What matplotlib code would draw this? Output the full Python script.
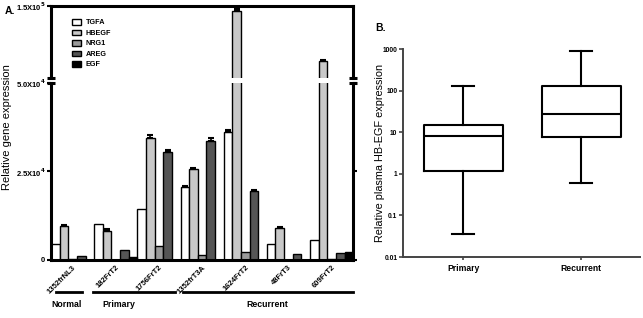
import numpy as np
import matplotlib
matplotlib.use("Agg")
import matplotlib.pyplot as plt
from matplotlib import font_manager
from matplotlib.transforms import blended_transform_factory

_names = {f.name for f in font_manager.fontManager.ttflist}
NARROW = "Liberation Sans Narrow" if "Liberation Sans Narrow" in _names else "Liberation Sans"
plt.rcParams["font.family"] = ["Liberation Sans", "DejaVu Sans"]
plt.rcParams["font.weight"] = "bold"

# ---- panel A data ----
samples = ["1352frNL3", "182FrT2", "1756FrT2", "1352frT3A", "1624FrT2", "48FrT3", "609FrT2"]
genes = ["TGFA", "HBEGF", "NRG1", "AREG", "EGF"]
gene_colors = ["#ffffff", "#c8c8c8", "#9a9a9a", "#555555", "#000000"]
tgfa = [4400, 10100, 14300, 20500, 36100, 4400, 5650]
hbegf = [9600, 8200, 34400, 25700, 143000, 8950, 74000]
nrg1 = [300, 0, 3950, 1300, 2350, 0, 300]
areg = [1200, 2800, 30600, 33600, 19600, 1600, 1900]
egf = [0, 930, 0, 0, 0, 0, 2350]
tgfa_err = [0, 0, 0, 300, 700, 0, 0]
hbegf_err = [200, 600, 900, 400, 2500, 500, 600]
nrg1_err = [0, 0, 0, 0, 0, 0, 0]
areg_err = [0, 0, 500, 1000, 200, 0, 0]
egf_err = [0, 0, 0, 0, 0, 0, 0]
groups = ["Normal", "Primary", "Recurrent"]

# ---- panel B data ----
box_groups = ["Primary", "Recurrent"]
box_whislo = [0.035, 0.60]
box_q1 = [1.19, 7.5]
box_med = [8.1, 26.9]
box_q3 = [15.1, 131]
box_whishi = [127, 880]

fig = plt.figure(figsize=(6.43, 3.18), dpi=100)

# broken y axis: two stacked axes
ax_top = fig.add_axes([0.0793, 0.7547, 0.470, 0.2264])
ax_bot = fig.add_axes([0.0793, 0.1824, 0.470, 0.5566])

series = [tgfa, hbegf, nrg1, areg, egf]
errs = [tgfa_err, hbegf_err, nrg1_err, areg_err, egf_err]
n_genes = len(genes)
spine_lw = 2.2

for ax in (ax_top, ax_bot):
    for i, (vals, err, col) in enumerate(zip(series, errs, gene_colors)):
        x = np.arange(len(samples)) * n_genes + i + 0.5
        ax.bar(x, vals, width=1.0, color=col, edgecolor="black", linewidth=1.0,
               label=genes[i], zorder=2)
        err = np.array(err)
        m = err > 0
        if m.any():
            # upper error only
            ax.errorbar(x[m], np.array(vals)[m], yerr=[np.zeros(m.sum()), err[m]],
                        fmt="none", ecolor="black", elinewidth=1.2, capsize=2.2,
                        capthick=1.5, zorder=3)
    ax.set_xlim(0, len(samples) * n_genes)
    for s in ("left", "right"):
        ax.spines[s].set_linewidth(spine_lw)

ax_bot.set_ylim(0, 5e4)
ax_top.set_ylim(5e4, 1.5e5)
ax_bot.spines["top"].set_visible(False)
ax_top.spines["bottom"].set_visible(False)
ax_bot.spines["bottom"].set_linewidth(spine_lw)
ax_top.spines["top"].set_linewidth(spine_lw)

ax_bot.set_yticks([0, 2.5e4, 5e4])
ax_bot.set_yticklabels(["0", r"2.5X10$^4$", r"5.0X10$^4$"], fontsize=5.5)
ax_bot.tick_params(axis="y", direction="out", length=3, width=1.5, pad=1,
                   right=True)
ax_top.set_yticks([1.5e5])
ax_top.set_yticklabels([r"1.5X10$^5$"], fontsize=5.5)
ax_top.tick_params(axis="y", direction="out", length=3, width=1.5, pad=1)
ax_top.set_xticks([])

# break caps
for xx in (0, len(samples) * n_genes):
    ax_bot.plot([xx], [5e4], marker="_", ms=6, mew=2.2, color="black", clip_on=False, zorder=5)
    ax_top.plot([xx], [5e4], marker="_", ms=6, mew=2.2, color="black", clip_on=False, zorder=5)

centers = np.arange(len(samples)) * n_genes + n_genes / 2
ax_bot.set_xticks(centers)
ax_bot.set_xticklabels(samples, rotation=45, ha="right", rotation_mode="anchor",
                       fontsize=5.5, family=NARROW)
ax_bot.tick_params(axis="x", length=0, pad=3)

# group bars under the sample names
trans = blended_transform_factory(ax_bot.transData, ax_bot.transAxes)
line_spans = [(0.58, 3.6), (4.87, 14.4), (15.3, 35.0)]
text_x = [1.85, 7.8, 25.1]
for name, (x0, x1), tx in zip(groups, line_spans, text_x):
    ax_bot.plot([x0, x1], [-0.18, -0.18], color="black", lw=2.0, transform=trans,
                clip_on=False)
    ax_bot.text(tx, -0.225, name, transform=trans, ha="center", va="top", fontsize=6.3)

ax_bot.set_ylabel("Relative gene expression", fontsize=8, labelpad=2)
ax_bot.yaxis.set_label_coords(-0.128, 0.75)

ax_top.legend(loc="upper left", bbox_to_anchor=(0.06, 0.86), frameon=False,
              fontsize=5.2, handlelength=1.3, handleheight=0.8, labelspacing=0.45,
              handletextpad=0.6, borderaxespad=0)

fig.text(0.008, 0.965, "A.", fontsize=7.5, va="center")

# ---- panel B ----
axb = fig.add_axes([0.6267, 0.1918, 0.3686, 0.6541])
stats = []
for i, name in enumerate(box_groups):
    stats.append(dict(label=name, whislo=box_whislo[i], q1=box_q1[i], med=box_med[i],
                      q3=box_q3[i], whishi=box_whishi[i], fliers=[]))
lw = 1.5
axb.bxp(stats, positions=[1, 2], widths=0.67, showfliers=False,
        boxprops=dict(color="black", linewidth=lw),
        medianprops=dict(color="black", linewidth=lw),
        whiskerprops=dict(color="black", linewidth=lw),
        capprops=dict(color="black", linewidth=lw), capwidths=0.19)
axb.set_yscale("log")
axb.set_ylim(0.01, 1000)
axb.set_xlim(0.49, 2.5)
axb.set_yticks([0.01, 0.1, 1, 10, 100, 1000])
axb.set_yticklabels(["0.01", "0.1", "1", "10", "100", "1000"], fontsize=4.8, family=NARROW)
axb.yaxis.set_minor_locator(matplotlib.ticker.NullLocator())
axb.tick_params(axis="y", length=3, width=1.2, color="#444444", pad=1)
axb.tick_params(axis="x", length=2, width=1.2, color="#444444", labelsize=6.2, pad=3)
axb.spines["top"].set_visible(False)
axb.spines["right"].set_visible(False)
for s in ("left", "bottom"):
    axb.spines[s].set_color("#444444")
    axb.spines[s].set_linewidth(1.4)
axb.set_ylabel("Relative plasma HB-EGF expression", fontsize=7.8)
axb.yaxis.set_label_coords(-0.075, 0.5)
fig.text(0.583, 0.912, "B.", fontsize=7.5, va="center")

fig.savefig("out.png", dpi=100)
